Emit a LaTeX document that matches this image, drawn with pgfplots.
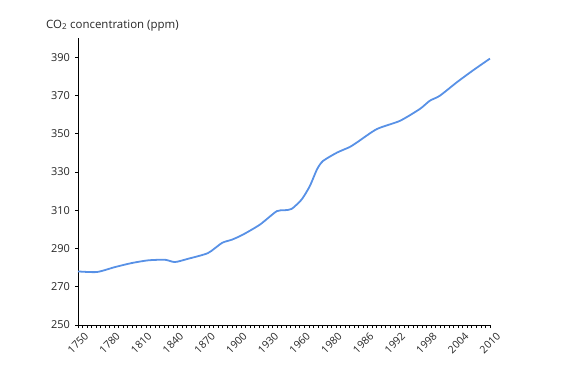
\documentclass[border=0pt]{standalone}
\usepackage{pgfplots}
\pgfplotsset{compat=1.18}
\usepackage{fontspec}
\setmainfont{Open Sans}
\definecolor{lineblue}{RGB}{88,145,230}
\begin{document}
\begin{tikzpicture}[x=1bp,y=1bp]
\path[use as bounding box] (0,0) rectangle (570,374);
\begin{axis}[
  at={(78bp,49bp)}, anchor=south west,
  scale only axis, width=412bp, height=287bp,
  xmin=0, xmax=91, ymin=250, ymax=400,
  axis x line*=bottom, axis y line*=left,
  axis line style={-, line width=1pt, black},
  ytick={250,270,...,390},
  xtick={0,7,...,91},
  xticklabels={1750,1780,1810,1840,1870,1900,1930,1960,1980,1986,1992,1998,2004,2010},
  minor xtick={0,1,...,91},
  tick align=outside,
  major tick length=3bp, minor tick length=3bp,
  tick style={black, line width=0.8pt},
  every tick label/.append style={text=black!85},
  x tick label style={font=\fontsize{10.5}{12}\selectfont, rotate=45, anchor=north east, inner sep=0.5pt, yshift=-6bp, xshift=2bp},
  y tick label style={font=\fontsize{11}{13}\selectfont, inner sep=1pt, xshift=-4bp},
  /pgf/number format/assume math mode=true,
  clip=false,
]
\node[anchor=south west, font=\fontsize{11.5}{13}\selectfont, inner sep=0pt, text=black!85] at (rel axis cs:0,1) [xshift=-32bp, yshift=7bp] {CO\textsubscript{2} concentration (ppm)};
\addplot[lineblue, line width=1.8pt, smooth, tension=0.4] coordinates {
(0,278) (4.2,277.7) (8.2,280.3) (11.9,282.4) (15.5,283.8) (19.2,284.1)
(21.4,282.9) (24.3,284.6) (28.7,287.6) (31.8,292.9) (34.0,294.6)
(36.4,297.2) (40.2,302.5) (43.9,309.5) (45.7,310) (47.2,310.7)
(49.4,315.6) (51.2,322.6) (52.8,331.4) (54.1,335.7) (57.2,340.1)
(60.0,343) (61.6,345.4) (66.0,352.4) (71.1,356.7) (75.5,362.9)
(77.7,367.2) (79.9,369.8) (83.7,376.9) (87.2,383) (90.6,388.6) (91,389.2)
};
\end{axis}
\end{tikzpicture}
\end{document}
